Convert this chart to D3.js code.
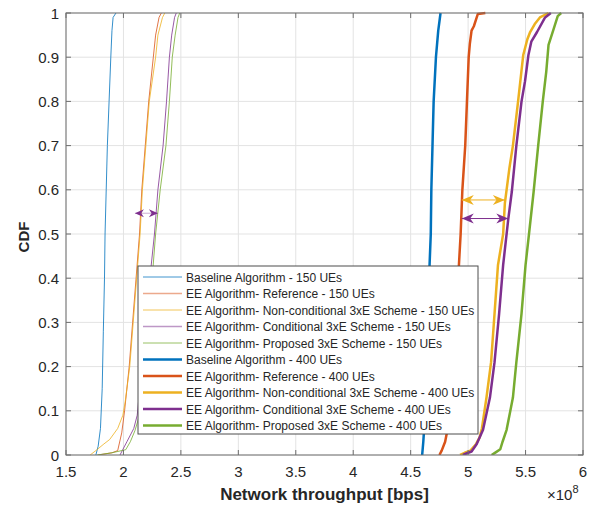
<!DOCTYPE html>
<html>
<head>
<meta charset="utf-8">
<script src="https://cdn.jsdelivr.net/npm/d3@7"></script>
<style>
  body { margin: 0; background: #fff; }
  svg { font-family: "Liberation Sans", Arial, sans-serif; }
</style>
</head>
<body>
<div id="chart"></div>
<script>
// x values in units of 1e8 bps, paired with CDF levels
const seriesNames = [
  "Baseline Algorithm - 150 UEs",
  "EE Algorithm- Reference - 150 UEs",
  "EE Algorithm- Non-conditional 3xE Scheme - 150 UEs",
  "EE Algorithm- Conditional 3xE Scheme - 150 UEs",
  "EE Algorithm- Proposed 3xE Scheme - 150 UEs",
  "Baseline Algorithm - 400 UEs",
  "EE Algorithm- Reference - 400 UEs",
  "EE Algorithm- Non-conditional 3xE Scheme - 400 UEs",
  "EE Algorithm- Conditional 3xE Scheme - 400 UEs",
  "EE Algorithm- Proposed 3xE Scheme - 400 UEs"
];
const seriesColors = ["#0072BD", "#D95319", "#EDB120", "#7E2F8E", "#77AC30",
                      "#0072BD", "#D95319", "#EDB120", "#7E2F8E", "#77AC30"];
const seriesWidths = [1, 1.6, 1, 1.6, 1, 2.5, 2.5, 2.5, 2.5, 2.5];
const seriesOpacity = [0.75, 0.5, 0.75, 0.5, 0.75, 1, 1, 1, 1, 1];

const baseline150 = [[1.76,0],[1.78,0.02],[1.80,0.06],[1.815,0.15],[1.825,0.28],[1.835,0.4],[1.84,0.5],[1.85,0.6],[1.86,0.7],[1.875,0.8],[1.89,0.9],[1.90,0.96],[1.91,0.99],[1.935,1]];
const reference150 = [[1.78,0],[1.90,0.005],[1.95,0.01],[1.985,0.05],[2.01,0.1],[2.05,0.2],[2.08,0.3],[2.11,0.4],[2.14,0.5],[2.16,0.6],[2.19,0.7],[2.22,0.8],[2.26,0.9],[2.28,0.95],[2.31,0.99],[2.33,1]];
const nonCond150 = [[1.71,0],[1.76,0.01],[1.83,0.025],[1.88,0.035],[1.95,0.06],[1.995,0.09],[2.015,0.12],[2.055,0.2],[2.085,0.3],[2.115,0.4],[2.145,0.5],[2.165,0.6],[2.195,0.7],[2.225,0.8],[2.28,0.9],[2.30,0.95],[2.34,0.99],[2.36,1]];
const cond150 = [[1.97,0],[1.99,0.01],[2.03,0.03],[2.09,0.06],[2.12,0.09],[2.16,0.2],[2.20,0.3],[2.23,0.4],[2.27,0.5],[2.30,0.6],[2.345,0.7],[2.375,0.8],[2.40,0.9],[2.42,0.95],[2.445,0.99],[2.46,1]];
const proposed150 = [[1.77,0],[1.90,0.005],[2.02,0.012],[2.06,0.03],[2.10,0.055],[2.14,0.09],[2.18,0.2],[2.22,0.3],[2.25,0.4],[2.28,0.5],[2.32,0.6],[2.37,0.7],[2.40,0.8],[2.425,0.9],[2.45,0.95],[2.475,0.99],[2.49,1]];
const baseline400 = [[4.60,0],[4.61,0.03],[4.615,0.05],[4.63,0.15],[4.645,0.3],[4.66,0.4],[4.675,0.5],[4.68,0.6],[4.69,0.7],[4.70,0.8],[4.72,0.9],[4.74,0.96],[4.76,1]];
const reference400 = [[4.75,0],[4.77,0.01],[4.80,0.03],[4.815,0.05],[4.85,0.15],[4.88,0.25],[4.905,0.35],[4.92,0.43],[4.935,0.5],[4.95,0.6],[4.975,0.7],[4.99,0.8],[5.005,0.9],[5.015,0.93],[5.03,0.96],[5.05,0.97],[5.075,0.99],[5.085,0.998],[5.15,1]];
const nonCond400 = [[4.93,0],[4.97,0.005],[5.02,0.01],[5.07,0.025],[5.10,0.04],[5.12,0.06],[5.16,0.13],[5.20,0.21],[5.23,0.32],[5.26,0.43],[5.305,0.5],[5.32,0.57],[5.36,0.65],[5.39,0.7],[5.435,0.8],[5.465,0.87],[5.48,0.905],[5.515,0.94],[5.54,0.957],[5.58,0.975],[5.625,0.99],[5.70,1]];
const cond400 = [[4.955,0],[4.99,0.004],[5.03,0.008],[5.075,0.025],[5.13,0.057],[5.19,0.13],[5.23,0.21],[5.27,0.32],[5.305,0.43],[5.35,0.535],[5.38,0.595],[5.42,0.7],[5.465,0.8],[5.495,0.845],[5.525,0.905],[5.55,0.935],[5.60,0.957],[5.67,0.99],[5.72,1]];
const proposed400 = [[5.205,0],[5.24,0.006],[5.28,0.013],[5.30,0.03],[5.335,0.057],[5.39,0.13],[5.42,0.21],[5.465,0.32],[5.50,0.43],[5.53,0.5],[5.57,0.595],[5.61,0.7],[5.65,0.8],[5.68,0.867],[5.70,0.928],[5.74,0.96],[5.78,0.993],[5.81,1]];

const seriesData = [baseline150, reference150, nonCond150, cond150, proposed150,
                    baseline400, reference400, nonCond400, cond400, proposed400];

// double arrows: [x1, x2, cdf, colour]
const arrows = [
  [2.10, 2.30, 0.547, "#7E2F8E"],
  [4.945, 5.32, 0.577, "#EDB120"],
  [4.945, 5.35, 0.535, "#7E2F8E"]
];

const xTicks = [1.5, 2, 2.5, 3, 3.5, 4, 4.5, 5, 5.5, 6];
const yTicks = [0, 0.1, 0.2, 0.3, 0.4, 0.5, 0.6, 0.7, 0.8, 0.9, 1];

const width = 596, height = 507;
const plot = { left: 66, right: 583, top: 13, bottom: 455 };
const textColor = "#262626";

const svg = d3.select("#chart").append("svg")
  .attr("width", width)
  .attr("height", height);

const x = d3.scaleLinear().domain([1.5, 6]).range([plot.left, plot.right]);
const y = d3.scaleLinear().domain([0, 1]).range([plot.bottom, plot.top]);

// grid
svg.append("g").selectAll("line").data(xTicks).join("line")
  .attr("x1", d => x(d)).attr("x2", d => x(d))
  .attr("y1", plot.top).attr("y2", plot.bottom)
  .attr("stroke", "#e3e3e3").attr("stroke-width", 1);
svg.append("g").selectAll("line").data(yTicks).join("line")
  .attr("x1", plot.left).attr("x2", plot.right)
  .attr("y1", d => y(d)).attr("y2", d => y(d))
  .attr("stroke", "#e3e3e3").attr("stroke-width", 1);

svg.append("defs").append("clipPath").attr("id", "clip")
  .append("rect")
  .attr("x", plot.left).attr("y", plot.top - 2)
  .attr("width", plot.right - plot.left).attr("height", plot.bottom - plot.top + 2);

const line = d3.line()
  .x(d => x(d[0]))
  .y(d => y(d[1]));

const curves = svg.append("g").attr("clip-path", "url(#clip)");
seriesData.forEach((data, i) => {
  curves.append("path")
    .datum(data)
    .attr("d", line)
    .attr("fill", "none")
    .attr("stroke", seriesColors[i])
    .attr("stroke-width", i < 5 ? 1 : 2.5)
    .attr("stroke-opacity", i < 5 ? 0.8 : 1)
    .attr("stroke-linejoin", "round");
});

// arrows
function arrowHead(tipX, tipY, dir, len, half) {
  const back = tipX - dir * len;
  const notch = tipX - dir * len * 0.7;
  return `M${tipX},${tipY} L${back},${tipY - half} L${notch},${tipY} L${back},${tipY + half} Z`;
}
arrows.forEach(([a, b, c, col], i) => {
  const x1 = x(a), x2 = x(b), yy = y(c);
  const len = i === 0 ? 9 : 12, half = i === 0 ? 4 : 5;
  svg.append("line")
    .attr("x1", x1).attr("x2", x2).attr("y1", yy).attr("y2", yy)
    .attr("stroke", col).attr("stroke-width", 1)
    .attr("stroke-opacity", i === 0 ? 0.4 : 1);
  svg.append("path").attr("d", arrowHead(x1, yy, -1, len, half)).attr("fill", col);
  svg.append("path").attr("d", arrowHead(x2, yy, 1, len, half)).attr("fill", col);
});

// axes (box with inward ticks)
const axisColor = "#6e6e6e";
svg.append("rect")
  .attr("x", plot.left).attr("y", plot.top)
  .attr("width", plot.right - plot.left).attr("height", plot.bottom - plot.top)
  .attr("fill", "none").attr("stroke", axisColor).attr("stroke-width", 1);

const ticks = svg.append("g").attr("stroke", axisColor).attr("stroke-width", 1);
xTicks.forEach(t => {
  ticks.append("line").attr("x1", x(t)).attr("x2", x(t)).attr("y1", plot.bottom).attr("y2", plot.bottom - 5);
  ticks.append("line").attr("x1", x(t)).attr("x2", x(t)).attr("y1", plot.top).attr("y2", plot.top + 5);
});
yTicks.forEach(t => {
  ticks.append("line").attr("x1", plot.left).attr("x2", plot.left + 5).attr("y1", y(t)).attr("y2", y(t));
  ticks.append("line").attr("x1", plot.right).attr("x2", plot.right - 5).attr("y1", y(t)).attr("y2", y(t));
});

svg.append("g").selectAll("text").data(xTicks).join("text")
  .attr("x", d => x(d)).attr("y", plot.bottom + 22)
  .attr("text-anchor", "middle")
  .attr("font-size", 15).attr("fill", textColor)
  .text(d => d3.format("")(d));

svg.append("g").selectAll("text").data(yTicks).join("text")
  .attr("x", plot.left - 7).attr("y", d => y(d) + 5.5)
  .attr("text-anchor", "end")
  .attr("font-size", 15).attr("fill", textColor)
  .text(d => d3.format("")(d));

svg.append("text")
  .attr("x", (plot.left + plot.right) / 2).attr("y", 500)
  .attr("text-anchor", "middle")
  .attr("font-size", 17).attr("font-weight", "bold").attr("fill", textColor)
  .text("Network throughput [bps]");

svg.append("text")
  .attr("transform", `translate(29,237) rotate(-90)`)
  .attr("text-anchor", "middle")
  .attr("font-size", 15).attr("font-weight", "bold").attr("fill", textColor)
  .text("CDF");

const expo = svg.append("text")
  .attr("x", 547).attr("y", 500)
  .attr("font-size", 15).attr("fill", textColor);
expo.append("tspan").text("\u00d710");
expo.append("tspan").attr("font-size", 11).attr("dy", -7).text("8");

// legend
const legend = { x: 138, y: 266, w: 340, h: 168, row0: 277, step: 16.5 };
svg.append("rect")
  .attr("x", legend.x).attr("y", legend.y)
  .attr("width", legend.w).attr("height", legend.h)
  .attr("fill", "#fff").attr("stroke", "#4d4d4d").attr("stroke-width", 1);

const items = svg.append("g").selectAll("g").data(seriesNames).join("g")
  .attr("transform", (d, i) => `translate(0,${legend.row0 + i * legend.step})`);
items.append("line")
  .attr("x1", 143).attr("x2", 182).attr("y1", 0).attr("y2", 0)
  .attr("stroke", (d, i) => seriesColors[i])
  .attr("stroke-width", (d, i) => seriesWidths[i])
  .attr("stroke-opacity", (d, i) => seriesOpacity[i]);
items.append("text")
  .attr("x", 186).attr("y", 4.5)
  .attr("font-size", 12).attr("fill", textColor)
  .text(d => d);
</script>
</body>
</html>
